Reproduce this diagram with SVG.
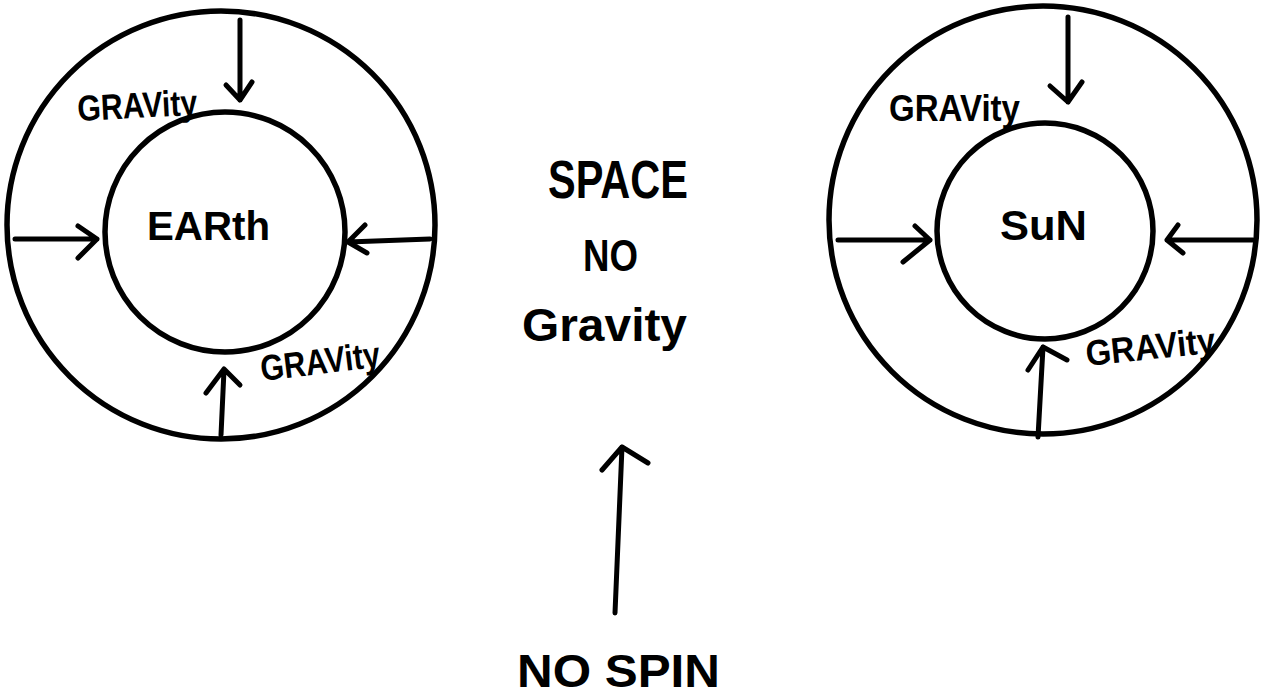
<svg xmlns="http://www.w3.org/2000/svg" width="1261" height="698" viewBox="0 0 1261 698">
<style>
.ring{fill:none;stroke:#000;stroke-width:5.5}
.ar{fill:none;stroke:#000;stroke-width:5;stroke-linecap:round;stroke-linejoin:round}
.lbl{font-family:"Liberation Sans",Arial,sans-serif;font-weight:bold;fill:#000}
</style>
<rect width="1261" height="698" fill="#fff"/>
<g id="earth">
<circle class="ring" cx="221" cy="225" r="214"/>
<circle class="ring" cx="225" cy="232" r="120"/>
<text class="lbl" x="147" y="240" font-size="41" textLength="123" lengthAdjust="spacingAndGlyphs">EARth</text>
</g>
<g id="sun">
<circle class="ring" cx="1043" cy="220" r="214"/>
<circle class="ring" cx="1045" cy="231" r="108"/>
<text class="lbl" x="1000" y="240" font-size="42" textLength="87" lengthAdjust="spacingAndGlyphs">SuN</text>
</g>
<g id="space">
<text class="lbl" x="548" y="198" font-size="54" textLength="140" lengthAdjust="spacingAndGlyphs">SPACE</text>
<text class="lbl" x="583" y="271" font-size="45" textLength="55" lengthAdjust="spacingAndGlyphs">NO</text>
<text class="lbl" x="522" y="341" font-size="46" textLength="165" lengthAdjust="spacingAndGlyphs">Gravity</text>
</g>
<g id="nospin">
<text class="lbl" x="517" y="687" font-size="46" textLength="203" lengthAdjust="spacingAndGlyphs">NO  SPIN</text>
</g>
<g id="labels">
<text class="lbl" x="78" y="121" font-size="36" textLength="120" lengthAdjust="spacingAndGlyphs" transform="rotate(-3 78 121)">GRAVity</text>
<text class="lbl" x="262" y="381" font-size="36" textLength="120" lengthAdjust="spacingAndGlyphs" transform="rotate(-7 262 381)">GRAVity</text>
<text class="lbl" x="889" y="121" font-size="36" textLength="131" lengthAdjust="spacingAndGlyphs">GRAVity</text>
<text class="lbl" x="1087" y="366" font-size="36" textLength="130" lengthAdjust="spacingAndGlyphs" transform="rotate(-6 1087 366)">GRAVity</text>
</g>
<g id="connectors">
<path class="ar" d="M240 20 L240 100 M226 85 L240 100 L252 82"/>
<path class="ar" d="M15 239 L97 239 M78 226 L97 239 L78 258"/>
<path class="ar" d="M430 239 L348 242 M365 225 L348 242 L367 253"/>
<path class="ar" d="M221 435 L224 370 M206 393 L224 369 L240 385"/>
<path class="ar" d="M1068 17 L1068 102 M1050 86 L1068 102 L1082 82"/>
<path class="ar" d="M838 240 L930 240 M915 226 L930 240 L903 262"/>
<path class="ar" d="M1253 240 L1167 240 M1178 225 L1167 240 L1183 253"/>
<path class="ar" d="M1038 437 L1043 347 M1028 370 L1043 347 L1067 360"/>
<path class="ar" d="M615 613 L622 447 M602 470 L622 447 L648 463"/>
</g>
</svg>
